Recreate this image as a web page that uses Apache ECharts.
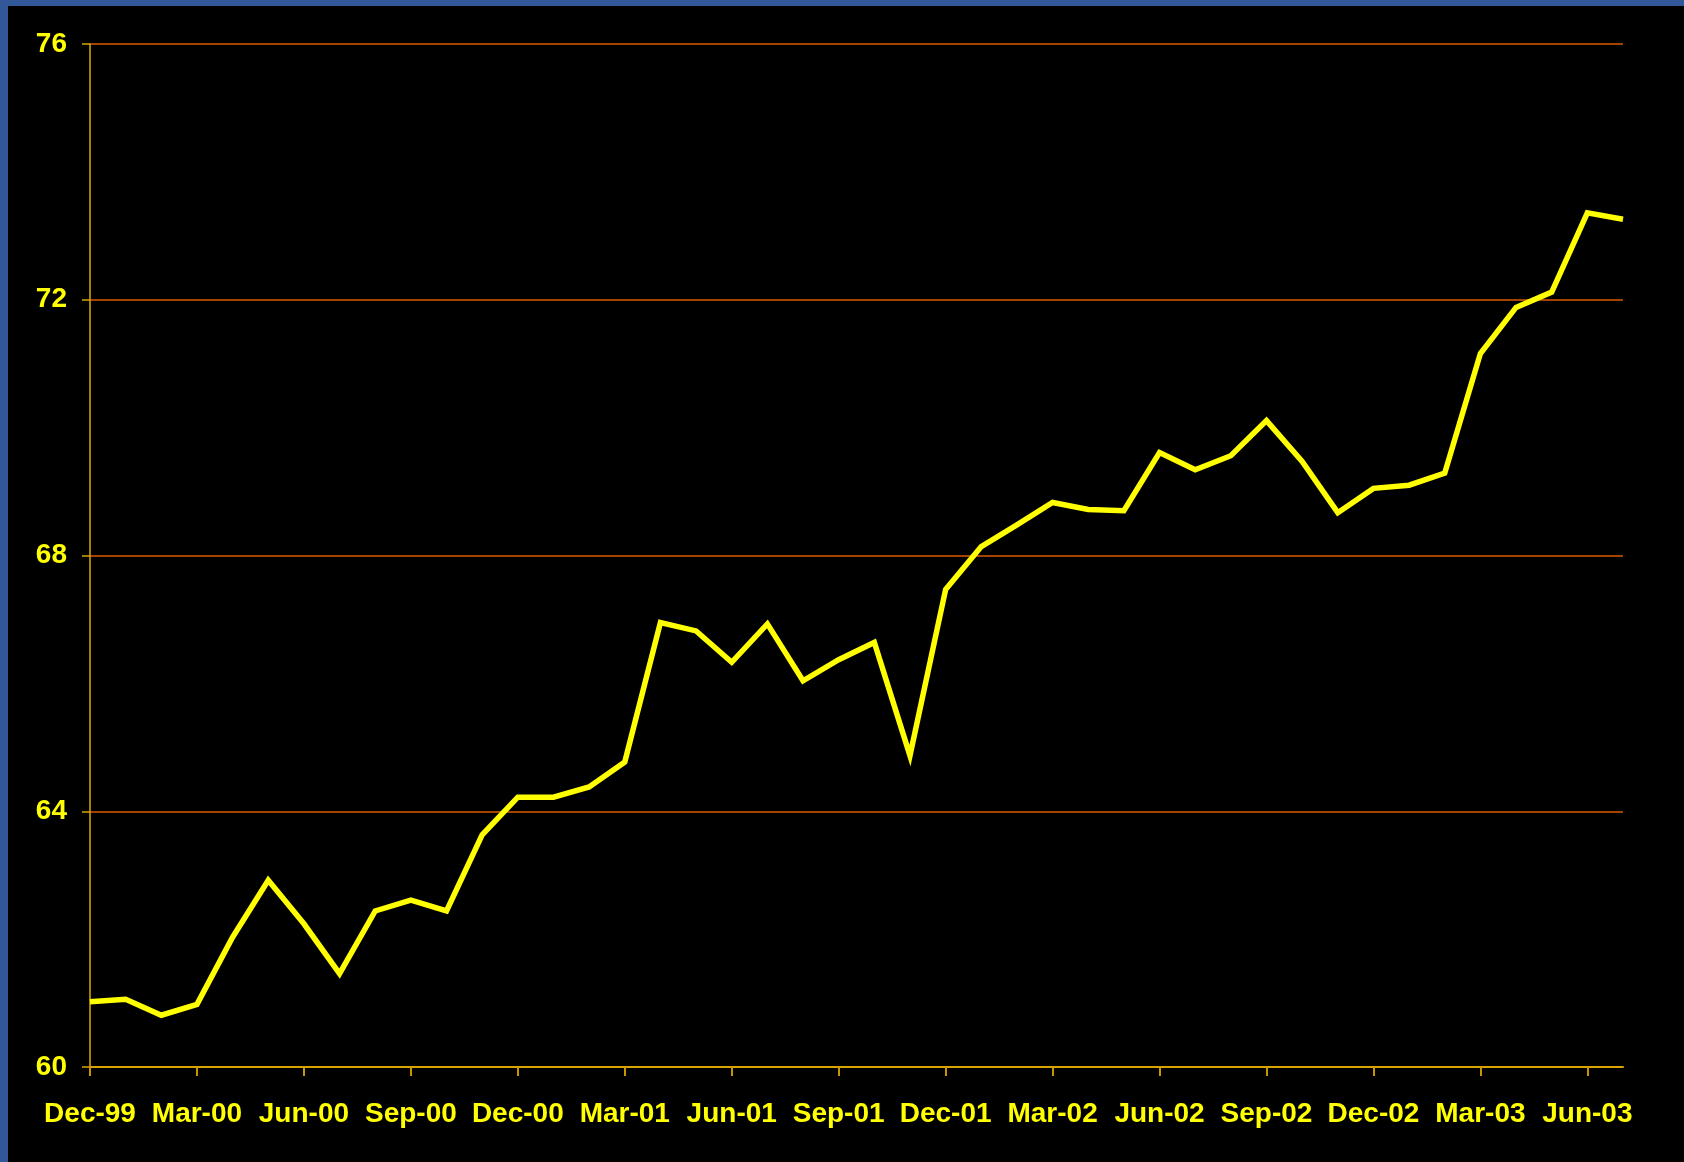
<!DOCTYPE html>
<html>
<head>
<meta charset="utf-8">
<title>Monthly index, Dec-99 to Jul-03</title>
<script src="https://cdn.jsdelivr.net/npm/echarts@6/dist/echarts.min.js"></script>
<style>
  html, body { margin: 0; padding: 0; background: #000; }
  #chart { position: absolute; left: 0; top: 0; width: 1684px; height: 1162px; }
  .frame-top { position: absolute; left: 0; top: 0; width: 1684px; height: 6px; background: #33589a; }
  .frame-left { position: absolute; left: 0; top: 0; width: 8px; height: 1162px; background: #33589a; }
</style>
</head>
<body>
<div id="chart"></div>
<div class="frame-top"></div>
<div class="frame-left"></div>
<script>
// Months shown along the category axis
const months = [
  'Dec-99', 'Jan-00', 'Feb-00', 'Mar-00', 'Apr-00', 'May-00', 'Jun-00', 'Jul-00', 'Aug-00', 'Sep-00', 'Oct-00', 'Nov-00',
  'Dec-00', 'Jan-01', 'Feb-01', 'Mar-01', 'Apr-01', 'May-01', 'Jun-01', 'Jul-01', 'Aug-01', 'Sep-01', 'Oct-01', 'Nov-01',
  'Dec-01', 'Jan-02', 'Feb-02', 'Mar-02', 'Apr-02', 'May-02', 'Jun-02', 'Jul-02', 'Aug-02', 'Sep-02', 'Oct-02', 'Nov-02',
  'Dec-02', 'Jan-03', 'Feb-03', 'Mar-03', 'Apr-03', 'May-03', 'Jun-03', 'Jul-03'
];

// Monthly values
const values = [
  61.02, 61.06, 60.81, 60.98, 62.03, 62.92, 62.24, 61.46, 62.44, 62.61, 62.44, 63.63,
  64.22, 64.22, 64.38, 64.77, 66.95, 66.82, 66.33, 66.93, 66.04, 66.37, 66.64, 64.87,
  67.47, 68.14, 68.48, 68.83, 68.72, 68.70, 69.61, 69.34, 69.56, 70.11, 69.47, 68.67,
  69.05, 69.10, 69.29, 71.16, 71.88, 72.12, 73.36, 73.26
];

// Value axis range and step
const yMin = 60;
const yMax = 76;
const yStep = 4;

const chart = echarts.init(document.getElementById('chart'), null, { renderer: 'canvas' });

const labelFont = {
  color: '#ffff00',
  fontFamily: '"Liberation Sans", Arial, sans-serif',
  fontWeight: 'bold',
  fontSize: 28
};

chart.setOption({
  backgroundColor: '#000000',
  animation: false,
  grid: { left: 90, right: 61, top: 44, bottom: 95 },
  xAxis: {
    type: 'category',
    data: months,
    boundaryGap: false,
    axisLine: { show: true, lineStyle: { color: '#d9a400', width: 2 } },
    axisTick: { show: true, interval: 2, length: 9, lineStyle: { color: '#c89600', width: 2 } },
    axisLabel: Object.assign({ interval: 2, margin: 33, lineHeight: 28 }, labelFont),
    splitLine: { show: false }
  },
  yAxis: {
    type: 'value',
    min: yMin,
    max: yMax,
    interval: yStep,
    axisLine: { show: true, lineStyle: { color: '#e0a800', width: 1.5 } },
    axisTick: { show: true, length: 8, lineStyle: { color: '#d9a400', width: 1.5 } },
    axisLabel: Object.assign({ margin: 23 }, labelFont),
    splitLine: { show: true, lineStyle: { color: '#dd5a00', width: 1.5 } }
  },
  series: [{
    type: 'line',
    data: values,
    symbol: 'none',
    lineStyle: { color: '#ffff00', width: 5.5, join: 'miter' },
    z: 5
  }]
});
</script>
</body>
</html>
